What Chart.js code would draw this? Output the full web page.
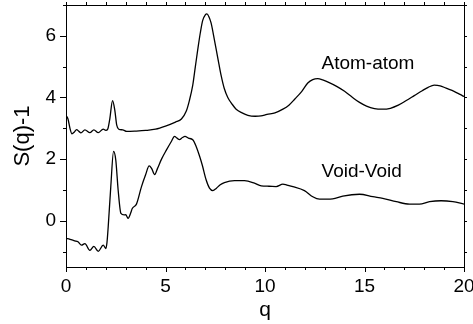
<!DOCTYPE html>
<html>
<head>
<meta charset="utf-8">
<script src="https://cdn.jsdelivr.net/npm/chart.js@4/dist/chart.umd.min.js"></script>
<style>
html,body{margin:0;padding:0;background:#fff;}
#wrap{width:473px;height:324px;position:relative;}
</style>
</head>
<body>
<div id="wrap"><canvas id="c" width="473" height="324"></canvas></div>
<script>
// Atom-atom structure factor
const qAtom = [0.0,0.1,0.2,0.3,0.42,0.53,0.65,0.75,0.95,1.2,1.4,1.62,1.87,2.0,2.1,2.2,2.34,2.45,2.55,2.65,2.85,3.05,3.5,4.0,4.5,5.0,5.5,5.8,6.04,6.2,6.37,6.5,6.62,6.75,6.87,7.0,7.08,7.18,7.29,7.42,7.55,7.68,7.8,7.95,8.13,8.35,8.55,8.85,9.14,9.5,9.8,10.1,10.5,10.9,11.2,11.5,11.85,12.15,12.4,12.65,12.9,13.2,13.6,14.0,14.4,14.75,15.1,15.5,15.9,16.3,16.7,17.1,17.5,17.9,18.2,18.5,18.8,19.1,19.5,19.8,20.0];
const sAtom = [3.42,3.3,3.0,2.82,2.88,2.96,2.9,2.85,2.95,2.86,2.95,2.86,2.97,2.93,2.98,3.3,3.9,3.6,3.1,2.97,2.95,2.9,2.91,2.93,2.97,3.07,3.2,3.3,3.55,3.9,4.4,5.0,5.55,6.1,6.5,6.68,6.71,6.62,6.42,6.0,5.55,5.1,4.7,4.3,4.0,3.78,3.62,3.5,3.42,3.39,3.4,3.45,3.5,3.62,3.75,3.95,4.2,4.47,4.58,4.61,4.57,4.49,4.36,4.2,4.0,3.84,3.72,3.64,3.62,3.65,3.75,3.9,4.06,4.22,4.33,4.4,4.38,4.3,4.2,4.1,4.03];
// Void-Void structure factor
const qVoid = [0.0,0.2,0.44,0.6,0.78,0.95,1.2,1.4,1.62,1.87,2.0,2.06,2.12,2.25,2.39,2.5,2.62,2.76,2.92,3.0,3.12,3.25,3.33,3.54,3.79,4.0,4.18,4.3,4.46,4.6,4.8,5.05,5.3,5.45,5.58,5.7,5.85,5.98,6.15,6.37,6.54,6.71,6.85,7.04,7.21,7.38,7.55,7.75,7.96,8.47,8.97,9.47,9.81,10.2,10.56,10.9,11.1,11.4,11.98,12.4,12.74,13.4,13.91,14.75,15.42,15.92,16.6,17.26,17.76,18.27,18.85,19.44,20.0];
const sVoid = [-0.57,-0.6,-0.65,-0.68,-0.79,-0.74,-0.96,-0.83,-0.99,-0.79,-0.9,-0.7,-0.2,1.1,2.25,1.98,1.0,0.24,0.19,0.2,0.08,0.25,0.4,0.54,1.1,1.49,1.78,1.7,1.5,1.7,2.0,2.3,2.58,2.74,2.68,2.63,2.7,2.74,2.68,2.63,2.41,2.1,1.8,1.33,1.06,0.98,1.05,1.17,1.24,1.3,1.3,1.22,1.13,1.12,1.11,1.19,1.16,1.11,0.98,0.78,0.7,0.71,0.8,0.86,0.78,0.73,0.62,0.54,0.54,0.62,0.65,0.62,0.54];
// Curve labels
const curveLabels = ["Atom-atom", "Void-Void"];
const labelPos = [[12.84, 5.08], [12.84, 1.59]];
const xTickLabels = [0, 5, 10, 15, 20];
const yTickLabels = [0, 2, 4, 6];

const FONT = "'Liberation Sans', Arial, sans-serif";
const toXY = (xs, ys) => xs.map((x, i) => ({x: x, y: ys[i]}));

const labelPlugin = {
  id: 'curveLabels',
  afterDatasetsDraw(chart) {
    const ctx = chart.ctx, xs = chart.scales.x, ys = chart.scales.y;
    ctx.save();
    ctx.fillStyle = '#000';
    ctx.font = '19px ' + FONT;
    ctx.textAlign = 'left';
    ctx.textBaseline = 'middle';
    curveLabels.forEach((t, i) => {
      ctx.fillText(t, xs.getPixelForValue(labelPos[i][0]), ys.getPixelForValue(labelPos[i][1]));
    });
    ctx.restore();
  }
};

// Outward tick marks on all four sides, major ticks longer than minor ones
const tickPlugin = {
  id: 'frameTicks',
  afterDraw(chart) {
    const ctx = chart.ctx, a = chart.chartArea, xs = chart.scales.x, ys = chart.scales.y;
    ctx.save();
    ctx.strokeStyle = '#000';
    ctx.lineWidth = 1;
    ctx.beginPath();
    xs.ticks.forEach(t => {
      const px = Math.round(xs.getPixelForValue(t.value)) + 0.5;
      const majorLen = xTickLabels.includes(t.value) ? 5 : 3;
      ctx.moveTo(px, a.bottom); ctx.lineTo(px, a.bottom + majorLen);
      ctx.moveTo(px, a.top); ctx.lineTo(px, a.top - 3);
    });
    ys.ticks.forEach(t => {
      const py = Math.round(ys.getPixelForValue(t.value)) + 0.5;
      const majorLen = yTickLabels.includes(t.value) ? 6 : 3;
      ctx.moveTo(a.left, py); ctx.lineTo(a.left - majorLen, py);
      ctx.moveTo(a.right, py); ctx.lineTo(a.right + 3, py);
    });
    ctx.stroke();
    ctx.restore();
  }
};

const noPad = s => { s.paddingTop = 0; s.paddingBottom = 0; s.paddingLeft = 0; s.paddingRight = 0; };
const tickFont = {family: FONT, size: 19};
const gridCommon = {drawOnChartArea: false, drawTicks: false, color: '#000', lineWidth: 1};
const borderCommon = {display: true, color: '#000', width: 1};

new Chart(document.getElementById('c'), {
  type: 'line',
  data: {
    datasets: [
      {data: toXY(qAtom, sAtom), borderColor: '#000', borderWidth: 1.3, pointRadius: 0, fill: false, cubicInterpolationMode: 'monotone'},
      {data: toXY(qVoid, sVoid), borderColor: '#000', borderWidth: 1.3, pointRadius: 0, fill: false, cubicInterpolationMode: 'monotone'}
    ]
  },
  options: {
    responsive: false,
    animation: false,
    devicePixelRatio: 1,
    layout: {padding: 0},
    plugins: {legend: {display: false}, tooltip: {enabled: false}},
    scales: {
      x: {
        type: 'linear', position: 'bottom', min: 0, max: 20,
        ticks: {stepSize: 1, autoSkip: false, maxRotation: 0, color: '#000', font: tickFont, padding: 8,
          callback: v => xTickLabels.includes(v) ? String(v) : ''},
        grid: gridCommon, border: borderCommon,
        title: {display: true, text: 'q', color: '#000', font: {family: FONT, size: 21}, padding: {top: 0, bottom: 1}},
        afterFit: s => { s.height = 57; noPad(s); }
      },
      x2: {
        type: 'linear', position: 'top', min: 0, max: 20,
        ticks: {stepSize: 1, autoSkip: false, maxRotation: 0, callback: () => ''},
        grid: gridCommon, border: borderCommon,
        afterFit: s => { s.height = 5; noPad(s); }
      },
      y: {
        type: 'linear', position: 'left', min: -1.5, max: 7,
        ticks: {stepSize: 1, includeBounds: false, color: '#000', font: tickFont, padding: 10,
          callback: v => yTickLabels.includes(v) ? String(v) : ''},
        grid: gridCommon, border: borderCommon,
        title: {display: true, text: 'S(q)-1', color: '#000', font: {family: FONT, size: 22}, padding: {top: 10, bottom: 0}},
        afterFit: s => { s.width = 66; noPad(s); }
      },
      y2: {
        type: 'linear', position: 'right', min: -1.5, max: 7,
        ticks: {stepSize: 1, includeBounds: false, callback: () => ''},
        grid: gridCommon, border: borderCommon,
        afterFit: s => { s.width = 9; noPad(s); }
      }
    }
  },
  plugins: [labelPlugin, tickPlugin]
});
</script>
</body>
</html>
